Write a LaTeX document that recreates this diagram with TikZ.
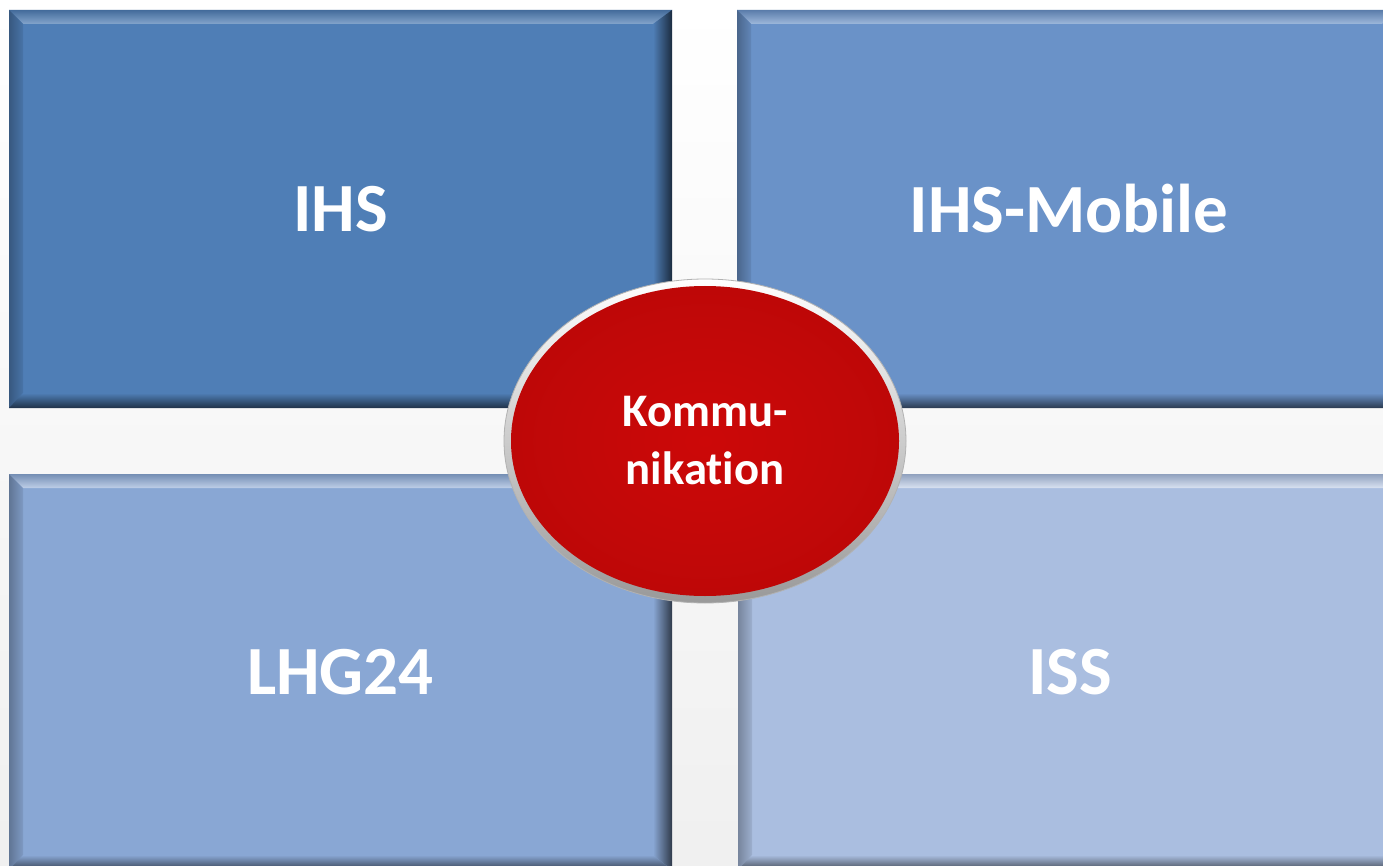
\documentclass[tikz,border=0pt]{standalone}
\usepackage{fontspec}
\setmainfont[Ligatures={NoCommon}]{Carlito}
\usetikzlibrary{calc,shapes.geometric}
\definecolor{tlmain}{HTML}{4F7EB6}
\definecolor{trmain}{HTML}{6A92C8}
\definecolor{blmain}{HTML}{89A7D4}
\definecolor{brmain}{HTML}{AABEE0}
\definecolor{kred}{HTML}{CC0808}
\tikzset{
  tile/.style={rectangle, inner sep=0pt, outer sep=0pt, minimum width=664pt, minimum height=398pt,
    text=white, font=\fontsize{69}{83}\selectfont\bfseries},
}
\newcommand\bevelfx[3]{% node, main colour, highlight
  \path[top color=#2!85!black, bottom color=#3] (#1.north west) -- (#1.north east) -- ($(#1.north east)+(-14,14)$) -- ($(#1.north west)+(14,14)$) -- cycle;
  \path[left color=#2!70!black, right color=#2!92!black] (#1.north west) -- ($(#1.north west)+(14,14)$) -- ($(#1.south west)+(14,-14)$) -- (#1.south west) -- cycle;
  \path[left color=#2, right color=#2!35!black] (#1.north east) -- (#1.south east) -- ($(#1.south east)+(-19,-15)$) -- ($(#1.north east)+(-19,14)$) -- cycle;
  \path[top color=#2, bottom color=#2!40!black] (#1.south west) -- (#1.south east) -- ($(#1.south east)+(-19,-15)$) -- ($(#1.south west)+(14,-15)$) -- cycle;
}
\begin{document}
\begin{tikzpicture}[x=1pt,y=-1pt]
\useasboundingbox (0,0) rectangle (1383,866);
\clip (0,0) rectangle (1383,866);
\fill[top color=white, bottom color=black!6] (0,0) rectangle (1383,866);
\node[tile, fill=tlmain, minimum width=663pt] (ihs) at (340.5,209) {IHS};
\bevelfx{ihs}{tlmain}{tlmain!70!white}
\node[tile, fill=trmain] (mobile) at (1069,209) {IHS-Mobile};
\bevelfx{mobile}{trmain}{trmain!65!white}
\node[tile, fill=blmain, minimum width=663pt, minimum height=396pt] (lhg) at (340.5,672) {LHG24};
\bevelfx{lhg}{blmain}{blmain!55!white}
\node[tile, fill=brmain, minimum height=396pt] (iss) at (1070,672) {ISS};
\bevelfx{iss}{brmain}{brmain!45!white}
\node[ellipse, inner sep=0pt, minimum width=402pt, minimum height=324pt,
  top color=white, bottom color=black!40, draw=black!30, line width=0.8pt] (ring) at (705,441) {};
\node[ellipse, inner sep=0pt, minimum width=388pt, minimum height=310pt,
  inner color=kred, outer color=kred!93!black, text=white, align=center,
  font=\fontsize{46.7}{58}\selectfont\bfseries] (komm) at (ring.center) {Kommu-\\nikation};
\end{tikzpicture}
\end{document}
